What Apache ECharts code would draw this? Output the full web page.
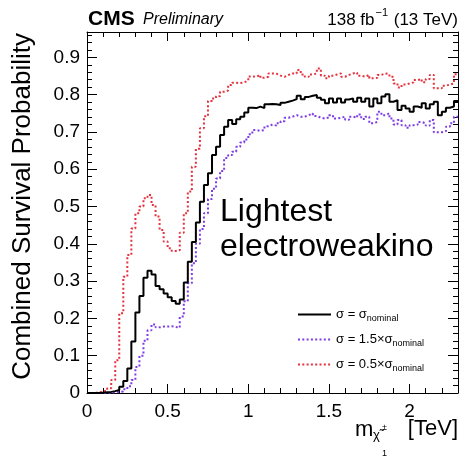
<!DOCTYPE html>
<html>
<head>
<meta charset="utf-8">
<script src="https://cdn.jsdelivr.net/npm/echarts@6/dist/echarts.min.js"></script>
<style>html,body{margin:0;padding:0;background:#fff}#c{width:460px;height:460px}</style>
</head>
<body>
<div id="c"></div>
<script>
// bin width 25 GeV, 92 bins from 0 to 2.3 TeV
const binWidth = 0.025;
const xMax = 2.3;
const yMax = 0.968;
const xTickLabels = ['0', '0.5', '1', '1.5', '2'];
const yTickLabels = ['0', '0.1', '0.2', '0.3', '0.4', '0.5', '0.6', '0.7', '0.8', '0.9'];
const seriesNames = ['nominal', '1.5x', '0.5x'];

const nominal = [0,0,0,0.001,0.002,0.003,0.005,0.008,0.017,0.032,
0.066,0.138,0.216,0.26,0.309,0.328,0.318,0.287,0.278,0.267,
0.257,0.247,0.239,0.251,0.296,0.352,0.405,0.457,0.513,0.558,
0.589,0.638,0.66,0.692,0.714,0.732,0.721,0.734,0.741,0.752,
0.765,0.764,0.768,0.764,0.774,0.775,0.774,0.772,0.778,0.781,
0.784,0.788,0.797,0.788,0.794,0.797,0.799,0.792,0.786,0.777,
0.79,0.779,0.79,0.779,0.787,0.79,0.781,0.792,0.781,0.79,
0.768,0.79,0.777,0.795,0.801,0.781,0.785,0.759,0.77,0.763,
0.754,0.768,0.765,0.777,0.763,0.774,0.781,0.745,0.754,0.765,
0.768,0.783];

const half = [0,0,0.002,0.004,0.006,0.013,0.035,0.088,0.214,0.312,
0.37,0.441,0.482,0.5,0.522,0.531,0.504,0.473,0.437,0.406,
0.388,0.381,0.383,0.43,0.482,0.54,0.607,0.655,0.71,0.742,
0.783,0.79,0.796,0.808,0.811,0.826,0.832,0.831,0.833,0.838,
0.849,0.848,0.853,0.845,0.848,0.857,0.856,0.851,0.848,0.853,
0.857,0.857,0.866,0.854,0.848,0.854,0.857,0.87,0.851,0.844,
0.851,0.854,0.857,0.848,0.853,0.857,0.859,0.851,0.848,0.853,
0.844,0.845,0.853,0.857,0.855,0.848,0.83,0.819,0.827,0.83,
0.833,0.839,0.842,0.833,0.842,0.853,0.817,0.817,0.824,0.827,
0.83,0.855];

const oneAndHalf = [0,0,0,0,0,0.001,0.002,0.003,0.004,0.01,
0.018,0.035,0.07,0.1,0.14,0.168,0.184,0.176,0.178,0.178,
0.179,0.177,0.175,0.205,0.246,0.294,0.348,0.40,0.44,0.482,
0.52,0.548,0.575,0.595,0.63,0.638,0.647,0.66,0.672,0.68,
0.694,0.705,0.703,0.705,0.715,0.72,0.717,0.723,0.729,0.738,
0.741,0.745,0.741,0.741,0.745,0.75,0.743,0.738,0.736,0.739,
0.745,0.736,0.738,0.741,0.733,0.741,0.738,0.747,0.735,0.741,
0.723,0.727,0.754,0.745,0.75,0.736,0.72,0.732,0.718,0.711,
0.718,0.72,0.727,0.723,0.717,0.732,0.699,0.699,0.702,0.714,
0.723,0.741];

function hist(vals) {
  const pts = vals.map((v, i) => [i * binWidth, v]);
  pts.push([vals.length * binWidth, vals[vals.length - 1]]);
  return pts;
}

const FONT = 'Liberation Sans, Arial, Helvetica, sans-serif';
const chart = echarts.init(document.getElementById('c'), null, {renderer: 'canvas'});

function xAx(g, pos, interval, len, line, labels) {
  return {
    gridIndex: g, type: 'value', min: 0, max: xMax, interval: interval, position: pos,
    axisLine: {show: line, onZero: false, lineStyle: {color: '#000', width: 1}},
    axisTick: {show: true, inside: true, length: len, lineStyle: {color: '#000', width: 1}},
    axisLabel: labels ? {show: true, fontSize: 19, fontFamily: FONT, color: '#000', margin: 9,
      showMaxLabel: false, formatter: v => {const i = Math.round(v / 0.5); return xTickLabels[i] !== undefined && Math.abs(v - i*0.5) < 1e-6 ? xTickLabels[i] : '';}} : {show: false},
    splitLine: {show: false}
  };
}
function yAx(g, pos, interval, len, line, labels) {
  return {
    gridIndex: g, type: 'value', min: 0, max: yMax, interval: interval, position: pos,
    axisLine: {show: line, onZero: false, lineStyle: {color: '#000', width: 1}},
    axisTick: {show: true, inside: true, length: len, lineStyle: {color: '#000', width: 1}},
    axisLabel: labels ? {show: true, fontSize: 19, fontFamily: FONT, color: '#000', margin: 7,
      showMaxLabel: false, formatter: v => {const i = Math.round(v / 0.1); return yTickLabels[i] !== undefined && Math.abs(v - i*0.1) < 1e-6 ? yTickLabels[i] : '';}} : {show: false},
    splitLine: {show: false}
  };
}

const gridBox = {left: 87, right: 2, top: 32, bottom: 67, containLabel: false};

const subRich = {
  a: {fontSize: 13, fontFamily: FONT, color: '#000', lineHeight: 18, verticalAlign: 'middle'},
  s: {fontSize: 9, fontFamily: FONT, color: '#000', lineHeight: 9, verticalAlign: 'bottom'}
};

const option = {
  animation: false,
  backgroundColor: '#fff',
  grid: [Object.assign({}, gridBox), Object.assign({}, gridBox), Object.assign({}, gridBox), Object.assign({}, gridBox)],
  xAxis: [
    xAx(0, 'bottom', 0.5, 9, true, true),
    xAx(1, 'bottom', 0.1, 5, false, false),
    xAx(2, 'top', 0.5, 9, true, false),
    xAx(3, 'top', 0.1, 5, false, false)
  ],
  yAxis: [
    yAx(0, 'left', 0.1, 10, true, true),
    yAx(1, 'left', 0.02, 5, false, false),
    yAx(2, 'right', 0.1, 10, true, false),
    yAx(3, 'right', 0.02, 5, false, false)
  ],
  legend: {
    orient: 'vertical', left: 297, top: 308, padding: 0, itemWidth: 33, itemHeight: 14, itemGap: 9.5,
    data: seriesNames,
    itemStyle: {opacity: 0, borderWidth: 0},
    formatter: function (name) {
      if (name === 'nominal') return '{a|σ = σ}{s|nominal}';
      if (name === '1.5x') return '{a|σ = 1.5×σ}{s|nominal}';
      return '{a|σ = 0.5×σ}{s|nominal}';
    },
    textStyle: {rich: subRich}
  },
  series: [
    {name: 'nominal', type: 'line', step: 'end', data: hist(nominal), symbol: 'none', z: 5,
     lineStyle: {color: '#000', width: 2}, itemStyle: {color: '#000'}},
    {name: '1.5x', type: 'line', step: 'end', data: hist(oneAndHalf), symbol: 'none', z: 4,
     lineStyle: {color: '#7d3ce6', width: 2, type: [2, 2.3]}, itemStyle: {color: '#7d3ce6'}},
    {name: '0.5x', type: 'line', step: 'end', data: hist(half), symbol: 'none', z: 3,
     lineStyle: {color: '#e5323e', width: 2, type: [2, 2.3]}, itemStyle: {color: '#e5323e'}}
  ],
  graphic: [
    {type: 'text', left: 88, top: 9, style: {text: 'CMS', font: 'bold 21px ' + FONT, fill: '#000'}},
    {type: 'text', left: 143, top: 12, style: {text: 'Preliminary', font: 'italic 16px ' + FONT, fill: '#000'}},
    {type: 'text', right: 2, top: 7, style: {
      text: '{a|138 fb}{p|−1}{a| (13 TeV)}',
      rich: {a: {fontSize: 17, fontFamily: FONT, color: '#000', lineHeight: 22, verticalAlign: 'bottom'},
             p: {fontSize: 11, fontFamily: FONT, color: '#000', lineHeight: 22, verticalAlign: 'top', padding: [0, 1, 0, 1]}}}},
    {type: 'text', x: 23, y: 33, rotation: Math.PI / 2, style: {
      text: 'Combined Survival Probability', font: '26px ' + FONT, fill: '#000', align: 'right', verticalAlign: 'middle'}},
    {type: 'text', x: 220, y: 195, style: {
      text: 'Lightest\nelectroweakino', font: '32px ' + FONT, fill: '#000', lineHeight: 35, align: 'left', verticalAlign: 'top'}},
    {type: 'text', x: 355, y: 419, style: {text: 'm', font: '22px ' + FONT, fill: '#000', align: 'left', verticalAlign: 'top'}},
    {type: 'text', x: 373, y: 429, style: {text: 'χ̃', font: '13px ' + FONT, fill: '#000', align: 'left', verticalAlign: 'top'}},
    {type: 'text', x: 382, y: 423, style: {text: '±', font: '9px ' + FONT, fill: '#000', align: 'left', verticalAlign: 'top'}},
    {type: 'text', x: 382, y: 449, style: {text: '1', font: '9px ' + FONT, fill: '#000', align: 'left', verticalAlign: 'top'}},
    {type: 'text', x: 458, y: 418, style: {text: '[TeV]', font: '22px ' + FONT, fill: '#000', align: 'right', verticalAlign: 'top'}}
  ]
};
chart.setOption(option);
</script>
</body>
</html>
